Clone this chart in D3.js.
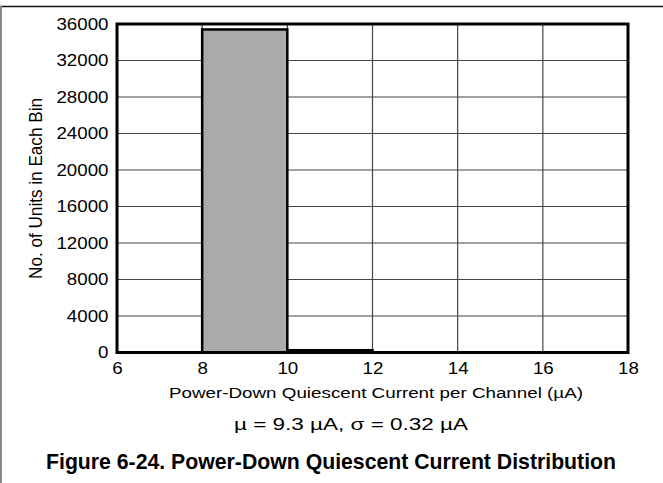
<!DOCTYPE html>
<html>
<head>
<meta charset="utf-8">
<script src="https://cdn.jsdelivr.net/npm/d3@7"></script>
<style>
  body { margin: 0; background: #fff; }
  svg { display: block; font-family: "Liberation Sans", Arial, sans-serif; }
</style>
</head>
<body>
<div id="chart"></div>
<script>
// bins (uA) and counts
var binStart = [8, 10];
var binEnd = [10, 12];
var counts = [35400, 250];
var xTicks = [6, 8, 10, 12, 14, 16, 18];
var yTicks = [0, 4000, 8000, 12000, 16000, 20000, 24000, 28000, 32000, 36000];

var width = 663, height = 483;
var margin = {left: 117, top: 24, right: 35, bottom: 130};
var stretch = 1.17;  // tick labels look a bit wide in the original

var svg = d3.select("#chart").append("svg")
  .attr("width", width)
  .attr("height", height);

// outer frame lines
svg.append("line").attr("x1", 0).attr("x2", width).attr("y1", 6.5).attr("y2", 6.5)
  .attr("stroke", "#111").attr("stroke-width", 1.5);
svg.append("line").attr("x1", 1).attr("x2", 1).attr("y1", 6).attr("y2", height)
  .attr("stroke", "#888").attr("stroke-width", 2);

var x = d3.scaleLinear().domain([6, 18]).range([margin.left, width - margin.right]);
var y = d3.scaleLinear().domain([0, 36000]).range([height - margin.bottom - 0.5, margin.top]);

var g = svg.append("g");

// grid
g.selectAll(".hgrid").data(yTicks.slice(1, -1)).enter().append("line")
  .attr("x1", x(6)).attr("x2", x(18))
  .attr("y1", function(d) { return y(d); }).attr("y2", function(d) { return y(d); })
  .attr("stroke", "#444").attr("stroke-width", 1.2);
g.selectAll(".vgrid").data(xTicks.slice(1, -1)).enter().append("line")
  .attr("x1", function(d) { return x(d); }).attr("x2", function(d) { return x(d); })
  .attr("y1", y(0)).attr("y2", y(36000))
  .attr("stroke", "#444").attr("stroke-width", 1.2);

// bars
g.selectAll(".bar").data(counts).enter().append("rect")
  .attr("class", "bar")
  .attr("x", function(d, i) { return x(binStart[i]); })
  .attr("width", function(d, i) { return x(binEnd[i]) - x(binStart[i]); })
  .attr("y", function(d) { return y(d); })
  .attr("height", function(d) { return y(0) - y(d); })
  .attr("fill", function(d, i) { return i == 0 ? "#aaaaaa" : "#fff"; })
  .attr("stroke", "#000").attr("stroke-width", 2.5);

// plot frame
g.append("rect")
  .attr("x", x(6)).attr("y", y(36000))
  .attr("width", x(18) - x(6)).attr("height", y(0) - y(36000))
  .attr("fill", "none").attr("stroke", "#000").attr("stroke-width", 3);

// axes (labels only)
var yAxis = d3.axisLeft(y).tickValues(yTicks).tickSize(0).tickFormat(d3.format("d"));
var ya = svg.append("g").attr("transform", "translate(" + x(6) + ",0)").call(yAxis);
ya.select(".domain").remove();
ya.selectAll("text")
  .attr("font-size", 16).attr("fill", "#000")
  .attr("font-family", "Liberation Sans, Arial, sans-serif")
  .attr("x", -8.5 / stretch)
  .attr("transform", "scale(" + stretch + ",1)");

var xAxis = d3.axisBottom(x).tickValues(xTicks).tickSize(0);
var xa = svg.append("g").attr("transform", "translate(0," + y(0) + ")").call(xAxis);
xa.select(".domain").remove();
xa.selectAll("text")
  .attr("font-size", 16).attr("fill", "#000")
  .attr("font-family", "Liberation Sans, Arial, sans-serif")
  .attr("y", 21.5).attr("dy", 0)
  .attr("transform", "scale(" + stretch + ",1)");

// titles
svg.append("text")
  .attr("x", 376).attr("y", 398)
  .attr("text-anchor", "middle").attr("font-size", 15.5)
  .attr("textLength", 414).attr("lengthAdjust", "spacingAndGlyphs")
  .text("Power-Down Quiescent Current per Channel (\u00b5A)");

svg.append("text")
  .attr("transform", "translate(42,188.5) rotate(-90)")
  .attr("text-anchor", "middle").attr("font-size", 18)
  .attr("textLength", 181).attr("lengthAdjust", "spacingAndGlyphs")
  .text("No. of Units in Each Bin");

svg.append("text")
  .attr("x", 351).attr("y", 430)
  .attr("text-anchor", "middle").attr("font-size", 16)
  .attr("textLength", 234).attr("lengthAdjust", "spacingAndGlyphs")
  .text("\u00b5 = 9.3 \u00b5A, \u03c3 = 0.32 \u00b5A");

svg.append("text")
  .attr("x", 331).attr("y", 469)
  .attr("text-anchor", "middle").attr("font-size", 21.5).attr("font-weight", "bold")
  .attr("textLength", 570).attr("lengthAdjust", "spacingAndGlyphs")
  .text("Figure 6-24. Power-Down Quiescent Current Distribution");
</script>
</body>
</html>
